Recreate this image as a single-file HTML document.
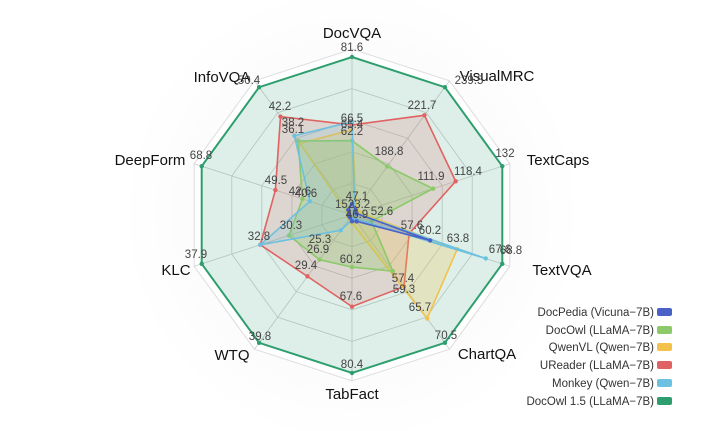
<!DOCTYPE html>
<html><head><meta charset="utf-8"><style>
html,body{margin:0;padding:0;background:#fff;width:715px;height:431px;overflow:hidden}
svg{display:block;font-family:"Liberation Sans",sans-serif}
.ax{font-size:15px;fill:#111;text-anchor:middle}
.v{font-size:11.5px;fill:#444;text-anchor:middle}
.lg{font-size:11.5px;fill:#333;text-anchor:end}
</style></head><body>
<svg id="s" width="715" height="431" viewBox="0 0 715 431">
<defs><radialGradient id="bg" cx="50%" cy="50%" r="50%"><stop offset="0" stop-color="#f4f4f4"/><stop offset="1" stop-color="#fff"/></radialGradient></defs>
<circle cx="352" cy="215" r="230" fill="url(#bg)"/>
<g id="grid"></g>
<g id="polys"></g>
<text class="ax" x="352" y="38">DocVQA</text><text class="v" x="352" y="51">81.6</text>
<text class="ax" x="497" y="81">VisualMRC</text><text class="v" x="469" y="84">239.5</text>
<text class="ax" x="558" y="165">TextCaps</text><text class="v" x="505" y="157">132</text>
<text class="ax" x="562" y="275">TextVQA</text><text class="v" x="500" y="253">67.6</text><text class="v" x="511" y="254">68.8</text>
<text class="ax" x="487" y="359">ChartQA</text><text class="v" x="446" y="339">70.5</text>
<text class="ax" x="352" y="399">TabFact</text><text class="v" x="352" y="368">80.4</text>
<text class="ax" x="232" y="360">WTQ</text><text class="v" x="260" y="340">39.8</text>
<text class="ax" x="176" y="275">KLC</text><text class="v" x="196" y="258">37.9</text>
<text class="ax" x="150" y="165">DeepForm</text><text class="v" x="201" y="159">68.8</text>
<text class="ax" x="222" y="82">InfoVQA</text><text class="v" x="249" y="84">50.4</text>
<text class="v" x="352" y="122">66.5</text><text class="v" x="352" y="128">65.4</text><text class="v" x="352" y="135">62.2</text>
<text class="v" x="422" y="109">221.7</text><text class="v" x="389" y="155">188.8</text>
<text class="v" x="468" y="175">118.4</text><text class="v" x="431" y="180">111.9</text>
<text class="v" x="412" y="229">57.6</text><text class="v" x="430" y="234">60.2</text><text class="v" x="458" y="242">63.8</text>
<text class="v" x="403" y="282">57.4</text><text class="v" x="404" y="293">59.3</text>
<text class="v" x="420" y="311">65.7</text>
<text class="v" x="351" y="300">67.6</text><text class="v" x="351" y="263">60.2</text>
<text class="v" x="306" y="269">29.4</text><text class="v" x="318" y="253">26.9</text><text class="v" x="320" y="243">25.3</text>
<text class="v" x="259" y="240">32.8</text><text class="v" x="291" y="229">30.3</text>
<text class="v" x="276" y="184">49.5</text><text class="v" x="300" y="195">42.6</text><text class="v" x="306" y="197">40.6</text>
<text class="v" x="280" y="110">42.2</text><text class="v" x="293" y="126">38.2</text><text class="v" x="293" y="133">36.1</text>
<text class="v" x="357" y="200">47.1</text><text class="v" x="359" y="208">23.2</text><text class="v" x="343" y="208">15.</text>
<text class="v" x="357" y="218">46.9</text><text class="v" x="382" y="215">52.6</text>
<g font-size="11.5">
<text class="lg" x="654" y="316">DocPedia (Vicuna−7B)</text><rect x="657" y="308" width="15" height="8" rx="2" fill="#4a62c8"/>
<text class="lg" x="654" y="334">DocOwl (LLaMA−7B)</text><rect x="657" y="326" width="15" height="8" rx="2" fill="#8cc96a"/>
<text class="lg" x="654" y="351">QwenVL (Qwen−7B)</text><rect x="657" y="343" width="15" height="8" rx="2" fill="#f2c24a"/>
<text class="lg" x="654" y="369">UReader (LLaMA−7B)</text><rect x="657" y="361" width="15" height="8" rx="2" fill="#e06262"/>
<text class="lg" x="654" y="387">Monkey (Qwen−7B)</text><rect x="657" y="379" width="15" height="8" rx="2" fill="#6cc0e0"/>
<text class="lg" x="654" y="405">DocOwl 1.5 (LLaMA−7B)</text><rect x="657" y="397" width="15" height="8" rx="2" fill="#2e9e6e"/>
</g>
</svg>
<script>
var cx=352,cy=215,R=158,NS="http://www.w3.org/2000/svg";
function pt(i,f){var a=i*Math.PI/5;return [cx+R*f*Math.sin(a),cy-R*f*Math.cos(a)];}
function poly(fs){return fs.map(function(f,i){return pt(i,f).map(function(v){return v.toFixed(1)}).join(",")}).join(" ");}
function el(p,tag,at){var e=document.createElementNS(NS,tag);for(var k in at)e.setAttribute(k,at[k]);p.appendChild(e);return e;}
var g=document.getElementById("grid"),P=document.getElementById("polys");
el(g,"polygon",{points:poly([1.05,1.05,1.05,1.05,1.05,1.05,1.05,1.05,1.05,1.05]),fill:"#fff",stroke:"#ddd"});
[0.2,0.4,0.6,0.8,1].forEach(function(r){el(g,"polygon",{points:poly(Array(10).fill(r)),fill:"none",stroke:"#ccc","stroke-width":0.8});});
for(var i=0;i<10;i++){var q=pt(i,1.05);el(g,"line",{x1:cx,y1:cy,x2:q[0],y2:q[1],stroke:"#ccc","stroke-width":0.8});}
var data=[
["#2e9e6e",0.16,[1,1,1,1,1,1,1,1,1,1]],
["#e06262",0.18,[0.57,0.78,0.69,0.38,0.56,0.58,0.48,0.61,0.51,0.77]],
["#f2c24a",0.25,[0.54,0.05,0.05,0.70,0.81,0.05,0.03,0.03,0.03,0.56]],
["#8cc96a",0.3,[0.47,0.38,0.54,0.13,0.44,0.33,0.35,0.42,0.33,0.58]],
["#6cc0e0",0.18,[0.59,0.03,0.03,0.89,0.03,0.03,0.12,0.61,0.28,0.62]],
["#4a62c8",0.15,[0.07,0.04,0.03,0.52,0.05,0.04,0.02,0.02,0.02,0.04]]];
data.forEach(function(d){el(P,"polygon",{points:poly(d[2]),fill:d[0],"fill-opacity":d[1],stroke:d[0],"stroke-width":d[0]=="#2e9e6e"?2:1.6});
d[2].forEach(function(f,i){var q=pt(i,f);el(P,"circle",{cx:q[0],cy:q[1],r:2.2,fill:d[0]});});});
</script>
</body></html>
